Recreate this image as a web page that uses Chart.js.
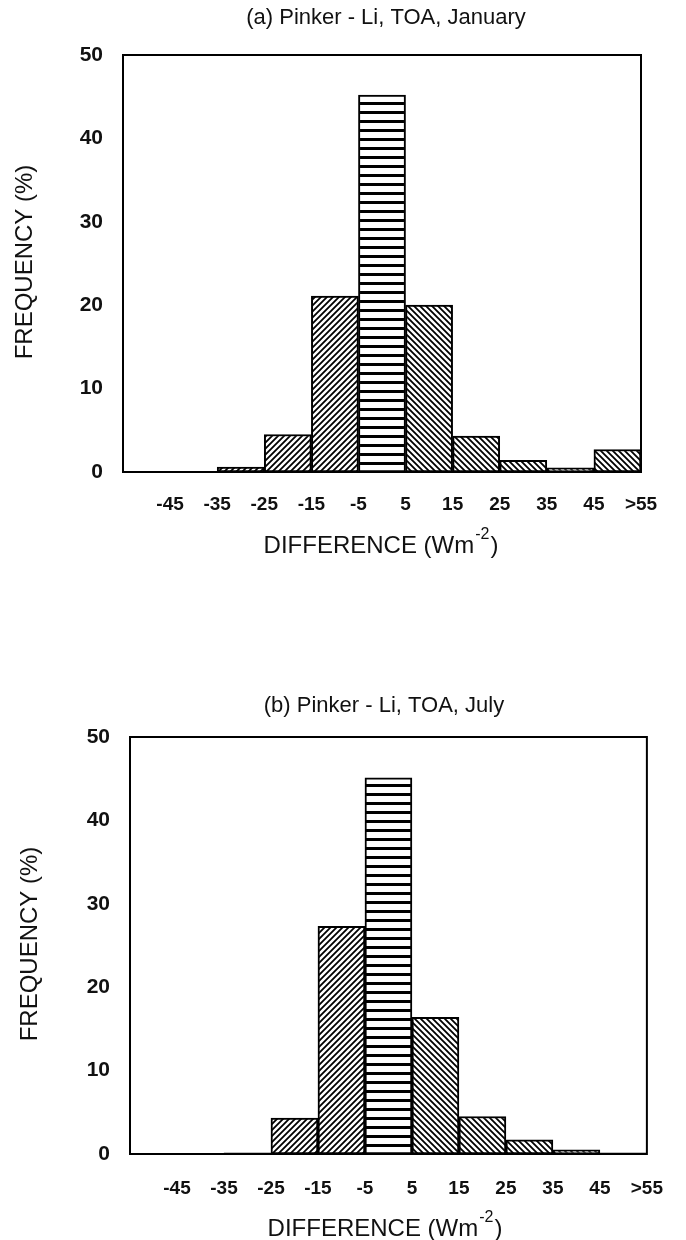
<!DOCTYPE html>
<html>
<head>
<meta charset="utf-8">
<script src="https://cdn.jsdelivr.net/npm/chart.js@4.4.1/dist/chart.umd.min.js"></script>
<style>
  html, body { margin: 0; padding: 0; background: #fff; }
  #wrap { position: relative; width: 686px; height: 1240px; overflow: hidden; }
  .panel { position: absolute; left: 0; }
</style>
</head>
<body>
<div id="wrap">
  <div class="panel" style="top:0"><canvas id="janChart" width="686" height="558"></canvas></div>
  <div class="panel" style="top:682px"><canvas id="julChart" width="686" height="558"></canvas></div>
</div>
<script>
// bins are 10 Wm-2 wide, centred on these values (last one is ">55" side)
const binCenters = [-50, -40, -30, -20, -10, 0, 10, 20, 30, 40, 50];
const janFreq = [0, 0, 0.6, 4.5, 21.1, 45.2, 20.0, 4.3, 1.4, 0.5, 2.7];
const julFreq = [0, 0, 0.15, 4.3, 27.3, 45.1, 16.4, 4.5, 1.7, 0.5, 0.15];
// labels sit on the bin edges -55 .. 55
const xTickLabels = ['', '-45', '-35', '-25', '-15', '-5', '5', '15', '25', '35', '45', '>55'];

const FONT = '"Liberation Sans", Arial, Helvetica, sans-serif';
const INK = '#111';

function makePattern(kind) {
  const c = document.createElement('canvas');
  const s = kind === 'horiz' ? 9 : 6;
  c.width = s; c.height = s;
  const g = c.getContext('2d');
  g.fillStyle = '#fff';
  g.fillRect(0, 0, s, s);
  g.strokeStyle = '#000';
  if (kind === 'horiz') {
    g.fillStyle = '#000';
    g.fillRect(0, 3, s, 3);
  } else {
    g.lineWidth = 1.8;
    g.beginPath();
    if (kind === 'fwd') { // "/"
      g.moveTo(0, s); g.lineTo(s, 0);
      g.moveTo(-1, 1); g.lineTo(1, -1);
      g.moveTo(s - 1, s + 1); g.lineTo(s + 1, s - 1);
    } else { // "\"
      g.moveTo(0, 0); g.lineTo(s, s);
      g.moveTo(-1, s - 1); g.lineTo(1, s + 1);
      g.moveTo(s - 1, -1); g.lineTo(s + 1, 1);
    }
    g.stroke();
  }
  return g.createPattern(c, 'repeat');
}

const decor = {
  id: 'decor',
  afterDatasetsDraw(chart, args, o) {
    const { ctx, chartArea: a } = chart;
    ctx.save();
    ctx.strokeStyle = '#000';
    ctx.lineWidth = 2;
    ctx.strokeRect(a.left, a.top, a.right - a.left, a.bottom - a.top);

    ctx.fillStyle = INK;
    ctx.textAlign = 'center';
    ctx.textBaseline = 'middle';
    ctx.font = '22px ' + FONT;
    ctx.fillText(o.title, o.titleX, o.titleY);

    ctx.save();
    ctx.translate(o.yTitleX, o.yTitleY);
    ctx.rotate(-Math.PI / 2);
    ctx.font = '24px ' + FONT;
    ctx.fillText('FREQUENCY (%)', 0, 0);
    ctx.restore();

    // x title with superscript
    const main = '24px ' + FONT, sup = '16px ' + FONT;
    ctx.textAlign = 'left';
    ctx.font = main;
    const w1 = ctx.measureText('DIFFERENCE (Wm').width;
    const w3 = ctx.measureText(')').width;
    ctx.font = sup;
    const w2 = ctx.measureText('-2').width;
    let x = o.xTitleX - (w1 + w2 + w3) / 2;
    ctx.font = main;
    ctx.fillText('DIFFERENCE (Wm', x, o.xTitleY);
    x += w1;
    ctx.font = sup;
    ctx.fillText('-2', x + 1, o.xTitleY - 11);
    x += w2 + 2;
    ctx.font = main;
    ctx.fillText(')', x, o.xTitleY);
    ctx.restore();
  }
};

function makeChart(id, values, lay) {
  const fills = binCenters.map(c => makePattern(c < 0 ? 'fwd' : c === 0 ? 'horiz' : 'back'));
  return new Chart(document.getElementById(id), {
    type: 'bar',
    data: {
      labels: binCenters.map(String),
      datasets: [{
        data: values,
        xAxisID: 'x',
        backgroundColor: fills,
        borderColor: '#000',
        borderWidth: 2,
        borderSkipped: false,
        barPercentage: 1,
        categoryPercentage: 1
      }]
    },
    options: {
      responsive: false,
      devicePixelRatio: 1,
      animation: false,
      layout: { padding: { top: 55, right: lay.right, bottom: 0, left: 0 } },
      plugins: {
        legend: { display: false },
        tooltip: { enabled: false },
        decor: lay.text
      },
      scales: {
        x: { type: 'category', display: false, offset: true },
        xt: {
          type: 'linear', position: 'bottom', min: -55, max: 55, offset: false,
          grid: { display: false, drawTicks: false },
          border: { display: false },
          ticks: {
            stepSize: 10, autoSkip: false, maxRotation: 0, includeBounds: true,
            padding: lay.xPad, color: INK, font: { family: FONT, size: 19, weight: 'bold' },
            callback: (v, i) => xTickLabels[i]
          },
          afterFit: s => { s.height = 86; }
        },
        y: {
          min: 0, max: 50,
          grid: { display: false, drawTicks: false },
          border: { display: false },
          ticks: { stepSize: 10, padding: 20, color: INK, font: { family: FONT, size: 21, weight: 'bold' } },
          afterFit: s => { s.width = lay.left; }
        }
      }
    },
    plugins: [decor]
  });
}

makeChart('janChart', janFreq, {
  left: 123, right: 45, xPad: 21,
  text: { title: '(a) Pinker - Li, TOA, January', titleX: 386, titleY: 18,
          yTitleX: 25, yTitleY: 262, xTitleX: 380, xTitleY: 546 }
});
makeChart('julChart', julFreq, {
  left: 130, right: 38, xPad: 23,
  text: { title: '(b) Pinker - Li, TOA, July', titleX: 384, titleY: 24,
          yTitleX: 30, yTitleY: 262, xTitleX: 384, xTitleY: 547 }
});
</script>
</body>
</html>
